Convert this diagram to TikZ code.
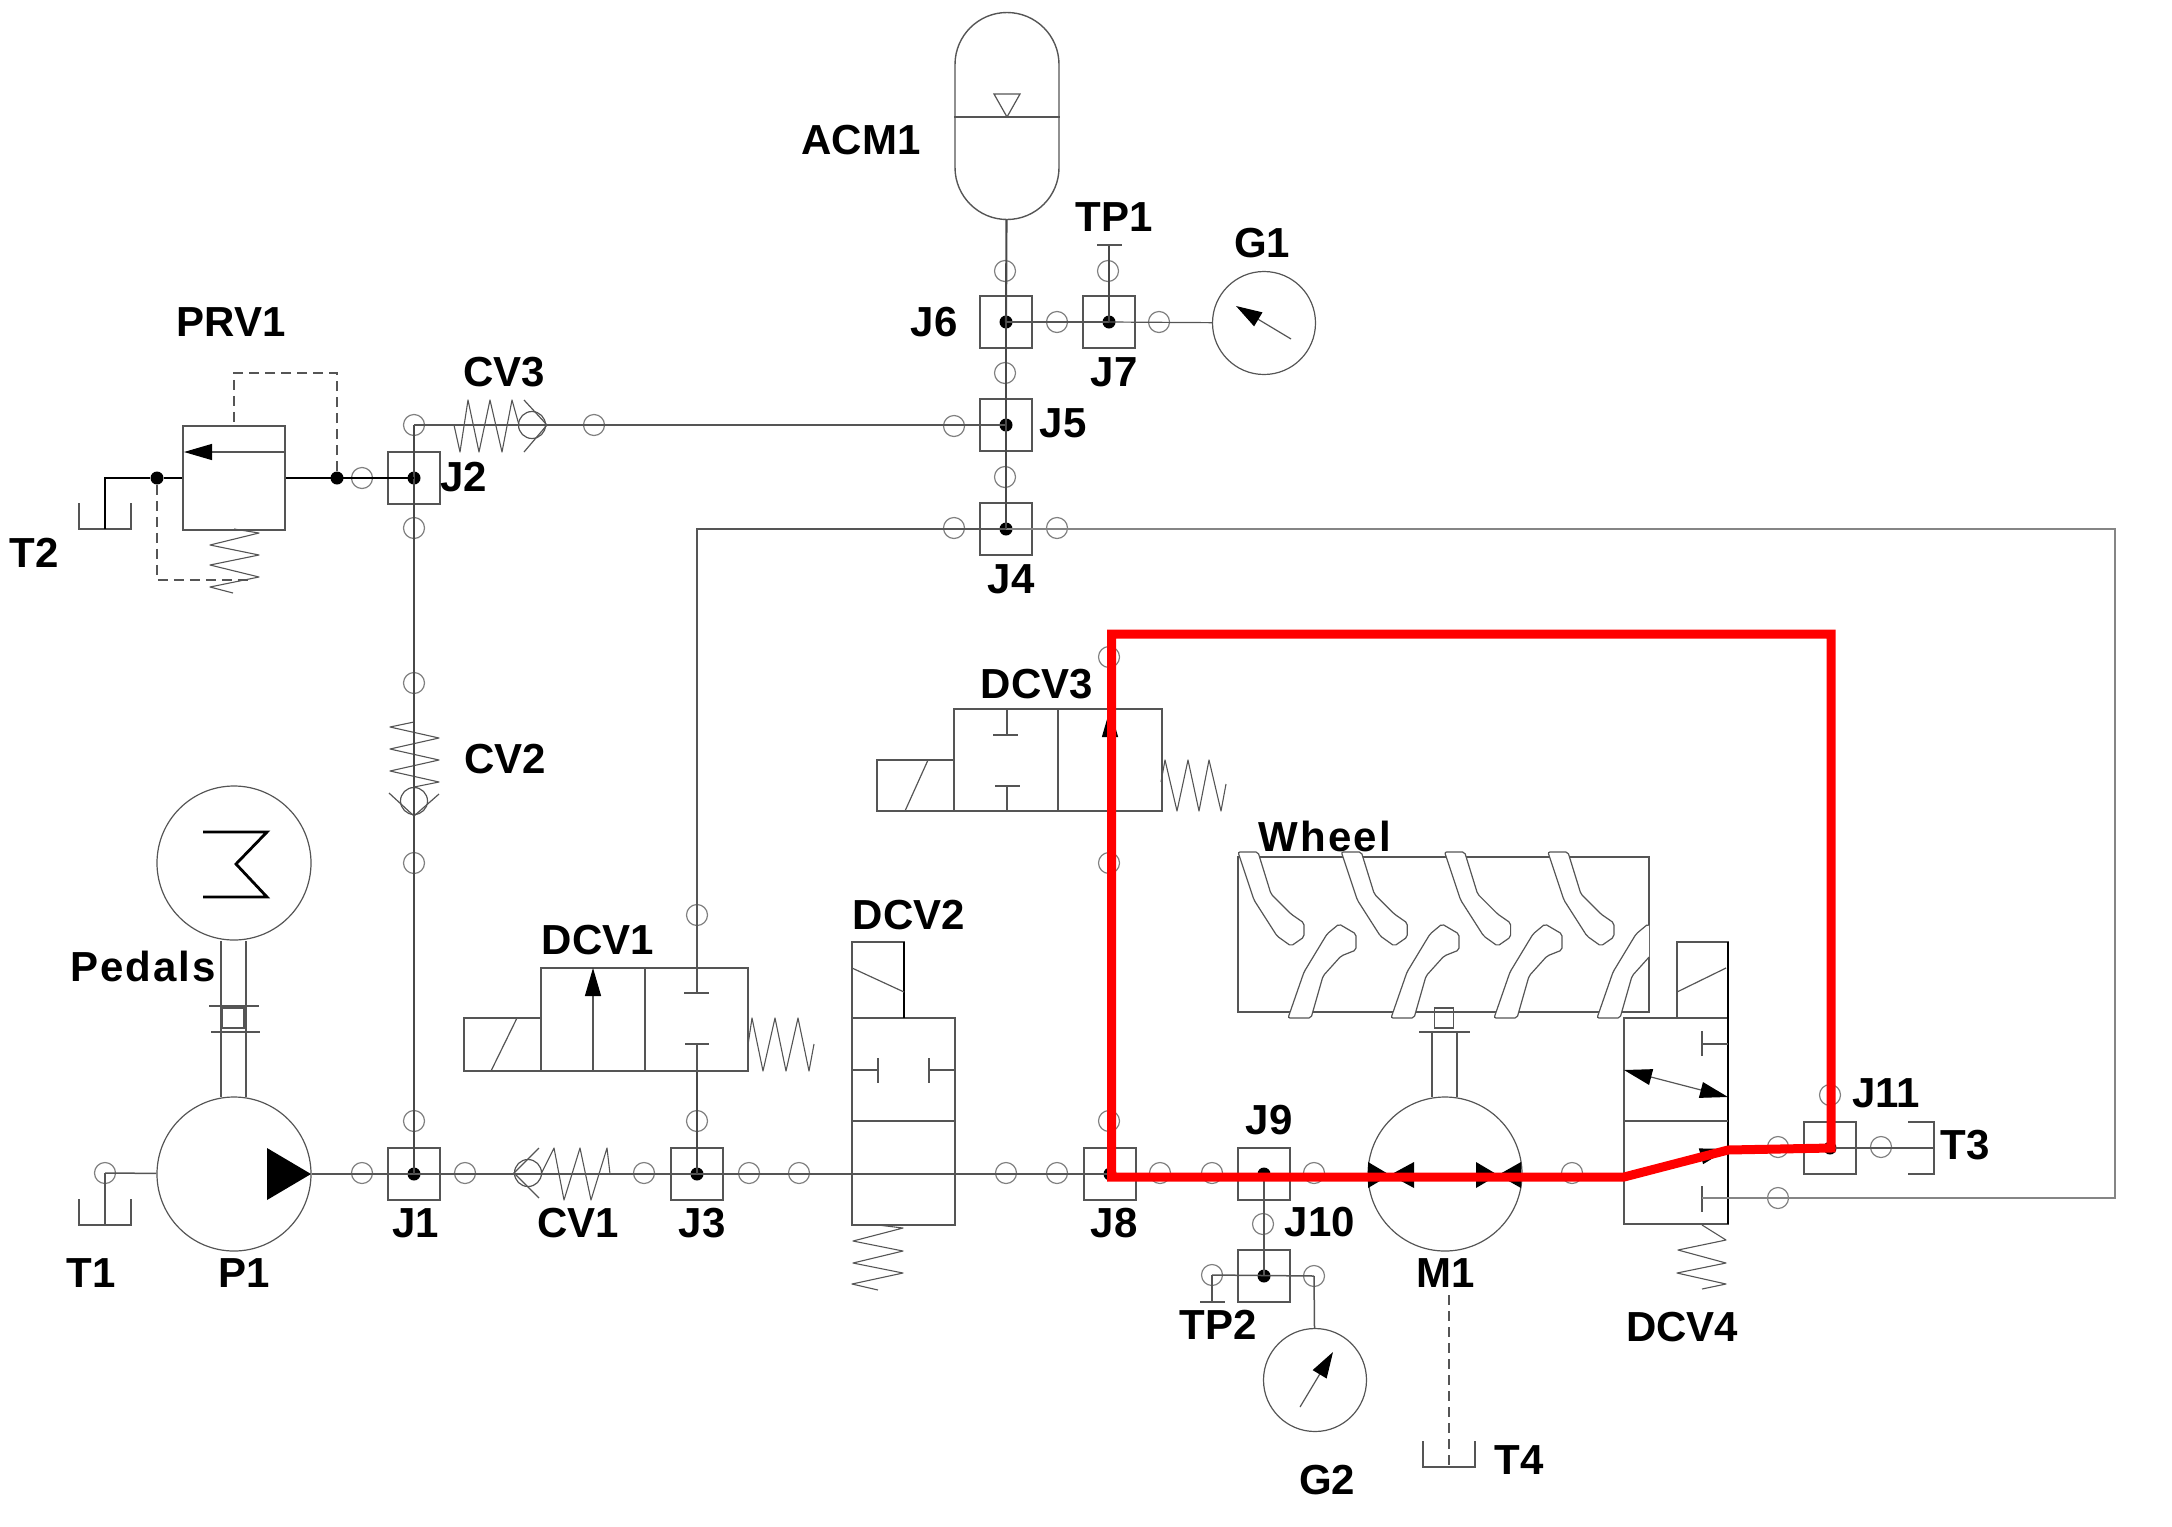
\documentclass[tikz,border=0pt]{standalone}
\usepackage{fontspec}
\setmainfont{Liberation Sans}
\usepackage{xcolor}
\usepackage{tikz}
\usetikzlibrary{arrows.meta}
\usetikzlibrary{shapes.geometric}

\definecolor{pipegray}{HTML}{555555}
\definecolor{loopgray}{HTML}{858585}
\definecolor{portgray}{HTML}{808080}

\begin{document}
\begin{tikzpicture}[x=.5pt, y=-.5pt,
  pipe/.style={draw=pipegray, line width=.75pt},
  riser/.style={draw=pipegray!85!black, line width=1.05pt},
  loopline/.style={draw=loopgray, line width=.9pt},
  heavy/.style={draw=black, line width=.85pt},
  fine/.style={draw=pipegray, line width=.6pt},
  pilot/.style={draw=pipegray, line width=.75pt, dash pattern=on 5pt off 3pt},
  spring/.style={draw=pipegray, line width=.55pt, line join=round},
  port/.style={circle, draw=portgray, line width=.6pt, minimum size=10.5pt, inner sep=0pt},
  junction/.style={rectangle, draw=pipegray, line width=.7pt, minimum width=26pt, minimum height=26pt, inner sep=0pt},
  jdot/.style={circle, fill=black, minimum size=6.5pt, inner sep=0pt},
  disc/.style={circle, draw=pipegray, line width=.6pt, inner sep=0pt},
  body/.style={rectangle, draw=pipegray, line width=.7pt, inner sep=0pt},
  flow/.style={-{Triangle[length=14pt, width=8pt, color=black]}},
  flowboth/.style={{Triangle[length=14pt, width=8pt, color=black]}-{Triangle[length=14pt, width=8pt, color=black]}},
  needle/.style={draw=pipegray, line width=.6pt, -{Triangle[length=13pt, width=8pt, color=black]}},
  lab/.style={font=\bfseries\fontsize{21}{21}\selectfont, inner sep=0pt},
  widelab/.style={font=\bfseries\fontsize{21}{21}\selectfont\addfontfeature{LetterSpace=5}, inner sep=0pt},
  lug/.style={draw=pipegray, fill=white, line width=.6pt, rounded corners=1pt},
  trace/.style={draw=red, line width=4.5pt, line join=miter}]
  %\draw [help lines] (0,0) grid[step=100] (2172,1526);
  \useasboundingbox (0,0) rectangle (2172,1526);

  % ports and junctions
  \foreach \n/\x/\y in {pT1/105/1173, pJ1w/362/1173, pJ1n/414/1121, pJ1e/465/1173, pJ3w/644/1173,
                        pJ3n/697/1121, pDCV1/697/915, pJ3e/749/1173, pDCV2/799/1173, pJ8w/1006/1173,
                        pJ8x/1057/1173, pJ8n/1109/1121, pDCV3s/1109/863, pDCV3n/1109/657,
                        pJ8e/1160/1173, pJ9w/1212/1173, pJ9e/1314/1173, pJ9s/1263/1224,
                        pTP2/1212/1275, pG2/1314/1276, pM1/1572/1173, pJ11w/1778/1147,
                        pJ11n/1830/1095, pJ11e/1881/1147, pDCV4/1778/1198,
                        pCV2s/414/863, pCV2n/414/683, pJ2s/414/528, pJ2n/414/425, pJ2w/362/478,
                        pCV3/594/425, pJ5w/954/426, pJ5n/1005/373, pJ5s/1005/477,
                        pJ4w/954/528, pJ4e/1057/528, pJ6n/1005/271, pJ6e/1057/322,
                        pJ7n/1108/271, pJ7e/1159/322} {
    \node[port] (\n) at (\x,\y) {};
  }
  \foreach \n/\x/\y in {J1/414/1174, J2/414/478, J3/697/1174, J4/1006/529, J5/1006/425, J6/1006/322,
                        J7/1109/322, J8/1110/1174, J9/1264/1174, J10/1264/1276, J11/1830/1148} {
    \node[junction] (\n) at (\x,\y) {};
    \node[jdot] (\n dot) at (\n) {};
  }

  % pump, pedals, motor, gauges
  \node[disc, minimum size=77pt] (Pedals) at (234,863) {};
  \node[disc, minimum size=77pt] (P1) at (234,1174) {};
  \node[disc, minimum size=77pt] (M1) at (1445,1174) {};
  \node[disc, minimum size=51.5pt] (G1) at (1264,323) {};
  \node[disc, minimum size=51.5pt] (G2) at (1315,1380) {};
  \draw[heavy, line width=1.4pt] (203,832) -- (267,832) -- (236,864) -- (267,897) -- (203,897);
  \fill (267,1148) -- (311,1174) -- (267,1200) -- cycle;
  \draw[pipe] (221,941) -- (221,1097) (246,941) -- (246,1097);
  \draw[pipe] (209,1006) -- (259,1006) (211,1032) -- (260,1032);
  \node[body, minimum width=11pt, minimum height=10pt] (coupleP) at (233,1018) {};
  \fill (1368,1162) -- (1390,1175) -- (1368,1188) -- cycle;
  \fill (1414,1162) -- (1390,1175) -- (1414,1188) -- cycle;
  \fill (1476,1162) -- (1498,1175) -- (1476,1188) -- cycle;
  \fill (1521,1162) -- (1498,1175) -- (1521,1188) -- cycle;
  \draw[pipe] (1432,1032) -- (1432,1097) (1457,1032) -- (1457,1097);
  \draw[pipe] (1419,1032) -- (1470,1032);
  \node[body, minimum width=9.5pt, minimum height=10pt] (coupleM) at (1444,1018) {};
  \draw[needle] (1291,339) -- (1236,306);
  \draw[needle] (1300,1407) -- (1333,1352);

  % tanks
  \foreach \n/\x/\y in {T1/105/1225, T2/105/529, T4/1449/1467} {
    \coordinate (\n) at (\x,\y);
    \draw[fine] ({\x-26},{\y-26}) -- ({\x-26},\y) -- ({\x+26},\y) -- ({\x+26},{\y-26});
  }
  \coordinate (T3) at (1934,1148);
  \draw[fine] (1908,1122) -- (1934,1122) -- (1934,1174) -- (1908,1174);

  % accumulator
  \node[body, rounded corners=26pt, minimum width=52pt, minimum height=103.5pt] (ACM1) at (1007,116) {};
  \draw[fine] (ACM1.west |- 0,117) -- (ACM1.east |- 0,117);
  \draw[fine] (994,94) -- (1020,94) -- (1007,117) -- cycle;

  % valves
  \node[body, minimum width=51pt, minimum height=52pt] (PRV1) at (234,478) {};
  \node[body, minimum width=103.5pt, minimum height=51.5pt] (DCV1) at (644.5,1019.5) {};
  \node[body, minimum width=51.5pt, minimum height=103.5pt] (DCV2) at (903.5,1121.5) {};
  \node[body, minimum width=104pt, minimum height=51pt] (DCV3) at (1058,760) {};
  \node[body, minimum width=52pt, minimum height=103pt] (DCV4) at (1676,1121) {};
  \draw[flow, fine] (285,452) -- (184,452);

  \draw[body] (464,1018) rectangle (541,1071);
  \draw[fine] (517,1018) -- (491,1071);
  \draw[fine] (645,968) -- (645,1071);
  \draw[flow, fine] (593,1071) -- (593,968);
  \draw[pipe] (684,993) -- (709,993) (685,1044) -- (709,1044);

  \draw[body] (852,942) rectangle (904,1018);
  \draw[heavy, line width=.7pt] (904,942) -- (904,1018);
  \draw[fine] (852,968) -- (904,992);
  \draw[fine] (852,1121) -- (955,1121);
  \draw[fine] (852,1070) -- (878,1070) (878,1058) -- (878,1083);
  \draw[fine] (955,1070) -- (929,1070) (929,1058) -- (929,1083);

  \draw[body] (877,760) rectangle (954,811);
  \draw[fine] (928,760) -- (905,811);
  \draw[fine] (1058,709) -- (1058,811);
  \draw[fine] (1007,709) -- (1007,735) (993,735) -- (1018,735);
  \draw[fine] (1007,811) -- (1007,786) (995,786) -- (1020,786);
  \draw[flow, fine] (1110,811) -- (1110,709);

  \draw[body] (1677,942) rectangle (1728,1018);
  \draw[heavy, line width=.7pt] (1728,942) -- (1728,1224);
  \draw[fine] (1677,992) -- (1726,968);
  \draw[fine] (1624,1121) -- (1728,1121);
  \draw[fine] (1728,1044) -- (1702,1044) (1702,1031) -- (1702,1056);
  \draw[fine] (1702,1186) -- (1702,1212);
  \draw[flowboth, fine] (1624,1070) -- (1728,1097);
  \draw[flow, fine] (1624,1177) -- (1728,1149);

  % springs
  \draw[spring] (234,529) -- (259,533) -- (210,545) -- (259,555) -- (210,565) -- (259,577) -- (210,587) -- (233,593);
  \draw[spring] (748,1045) -- (752,1018) -- (763,1071) -- (775,1018) -- (786,1071) -- (798,1018) -- (809,1071) -- (814,1044);
  \draw[spring] (878,1225) -- (903,1228) -- (853,1241) -- (903,1251) -- (853,1263) -- (903,1273) -- (852,1284) -- (878,1290);
  \draw[spring] (1161,782) -- (1165,760) -- (1177,811) -- (1188,760) -- (1199,811) -- (1209,760) -- (1221,811) -- (1226,784);
  \draw[spring] (1702,1225) -- (1726,1240) -- (1678,1250) -- (1726,1263) -- (1677,1273) -- (1726,1284) -- (1702,1289);
  \draw[spring] (414,722) -- (390,727) -- (439,738) -- (390,749) -- (439,760) -- (390,771) -- (439,782) -- (414,787);
  \draw[spring] (454,425) -- (460,452) -- (468,400) -- (479,452) -- (490,400) -- (502,452) -- (512,400) -- (519,425);
  \draw[spring] (541,1174) -- (554,1148) -- (564,1200) -- (580,1148) -- (591,1200) -- (607,1148) -- (610,1174);

  % check valves
  \node[disc, minimum size=13.5pt] (CV1) at (528,1173) {};
  \node[disc, minimum size=13.5pt] (CV2) at (414,801) {};
  \node[disc, minimum size=13.5pt] (CV3) at (532,425) {};
  \draw[fine] (539,1148) -- (514,1173) -- (539,1198);
  \draw[fine] (389,793) -- (414,816) -- (439,794);
  \draw[fine] (524,400) -- (547,425) -- (524,452);

  % pipes
  \coordinate (capTP1) at (1109,245);
  \coordinate (capTP2) at (1212,1302);
  \coordinate (cornerR) at (2115,1198);
  \coordinate (inDCV4) at (1702,1198);
  \coordinate (dump) at (1449,1295);
  \node[jdot] (pilotR) at (337,478) {};
  \node[jdot] (pilotL) at (157,478) {};

  \draw[pipe] (pT1.center) -- (T1);
  \draw[pipe] (pT1.center) -- (P1);
  \draw[pipe] (P1) -- (J1.center);
  \draw[pipe] (J1.center) -- (J3.center);
  \draw[pipe] (J3.center) -- (J8.center);
  \draw[pipe] (J8.center) -- (J9.center);
  \draw[pipe] (J9.center) -- (M1);
  \draw[pipe] (M1) -- (1624,1174);
  \draw[riser] (J1.center) -- (J2.center);
  \draw[riser] (J2.center) -- (pJ2n.center);
  \draw[fine] (pJ2n.center) -- (J5.center);
  \draw[riser] (J3.center) -- (J3.center |- DCV1.south);
  \draw[fine] (J3.center |- 0,1044) -- (J3.center |- DCV1.south);
  \draw[fine] (J3.center |- DCV1.north) -- (J3.center |- 0,993);
  \draw[pipe] (J3.center |- DCV1.north) |- (J4.center);
  \draw[loopline] (J4.center) -| (cornerR) -- (inDCV4);
  \draw[pipe] (J8.center) -- (pDCV3n.center);
  \draw[riser] (J4.center) -- (J5.center);
  \draw[riser] (J5.center) -- (J6.center);
  \draw[riser] (J6.center) -- (ACM1);
  \draw[fine] (J6.center) -- (J7.center);
  \draw[fine] (J7.center) -- (G1);
  \draw[riser] (J7.center) -- (capTP1);
  \draw[fine] (1097,245) -- (1122,245);
  \draw[pipe] (J9.center) -- (J10.center);
  \draw[pipe] (pTP2.center) -- (pG2.center);
  \draw[pipe] (pTP2.center) -- (capTP2);
  \draw[fine] (1200,1302) -- (1225,1302);
  \draw[pipe] (pG2.center) -- (G2);
  \draw[pilot] (dump) -- (T4);
  \draw[pipe] (1728,1148) -- (J11.center);
  \draw[fine] (J11.center) -- (T3);
  \draw[pipe] (J11.center) -- (pJ11n.center);

  \draw[heavy] (J2.center) -- (PRV1);
  \draw[heavy] (PRV1) -- (pilotL) -| (T2);
  \draw[pilot] (pilotR) -- (337,373) -- (234,373) -- (PRV1);
  \draw[pilot] (pilotL) -- (157,580) -- (249,580);

  % wheel
  \node[body, minimum width=205.5pt, minimum height=77.5pt] (Wheel) at (1443.5,934.5) {};
  \foreach \i in {0,1,2,3} {
    \begin{scope}[xshift=\i*51.65pt]
      \draw[lug] (1238,852) -- (1254,900) -- (1277,936) -- (1291,946) -- (1304,937) -- (1304,923)
        -- (1291,914) -- (1271,894) -- (1258,852) -- cycle;
    \end{scope}
  }
  \begin{scope}
    \clip (1200,840) rectangle (1649,1030);
    \foreach \i in {0,1,2,3} {
      \begin{scope}[xshift=\i*51.5pt]
        \draw[lug] (1288,1018) -- (1304,972) -- (1327,934) -- (1339,924) -- (1356,934) -- (1356,950)
          -- (1341,956) -- (1323,976) -- (1311,1018) -- cycle;
      \end{scope}
    }
  \end{scope}

  % highlighted path
  \coordinate (r1) at (1111.5,634);
  \coordinate (r2) at (1831,634);
  \coordinate (r3) at (1831,1148);
  \coordinate (r4) at (1728,1150);
  \coordinate (r5) at (1624,1177);
  \coordinate (r6) at (1111.5,1177);
  \draw[trace] (r1) -- (r2) -- (r3) -- (r4) -- (r5) -- (r6) -- cycle;

  % labels
  \foreach \t/\x/\y in {PRV1/231/322, CV3/504/372, J2/464/477, T2/34/553, ACM1/861/140, TP1/1114/217,
                        G1/1262/243, J6/934/322, J7/1114/372, J5/1063/423, J4/1011/579, CV2/505/759,
                        T1/91/1273, P1/244/1273, J1/416/1223, CV1/578/1223, J3/702/1223,
                        DCV1/598/940, DCV2/909/915, DCV3/1037/684, J8/1114/1223, J9/1269/1120,
                        J10/1320/1222, TP2/1218/1325, G2/1327/1480, M1/1446/1273, T4/1519/1460,
                        DCV4/1682/1327, J11/1886/1093, T3/1965/1145} {
    \node[lab] (l\t) at (\x,\y) {\t};
  }
  \foreach \t/\x/\y in {Pedals/143/966, Wheel/1325/836} {
    \node[widelab] (l\t) at (\x,\y) {\t};
  }
\end{tikzpicture}
\end{document}
